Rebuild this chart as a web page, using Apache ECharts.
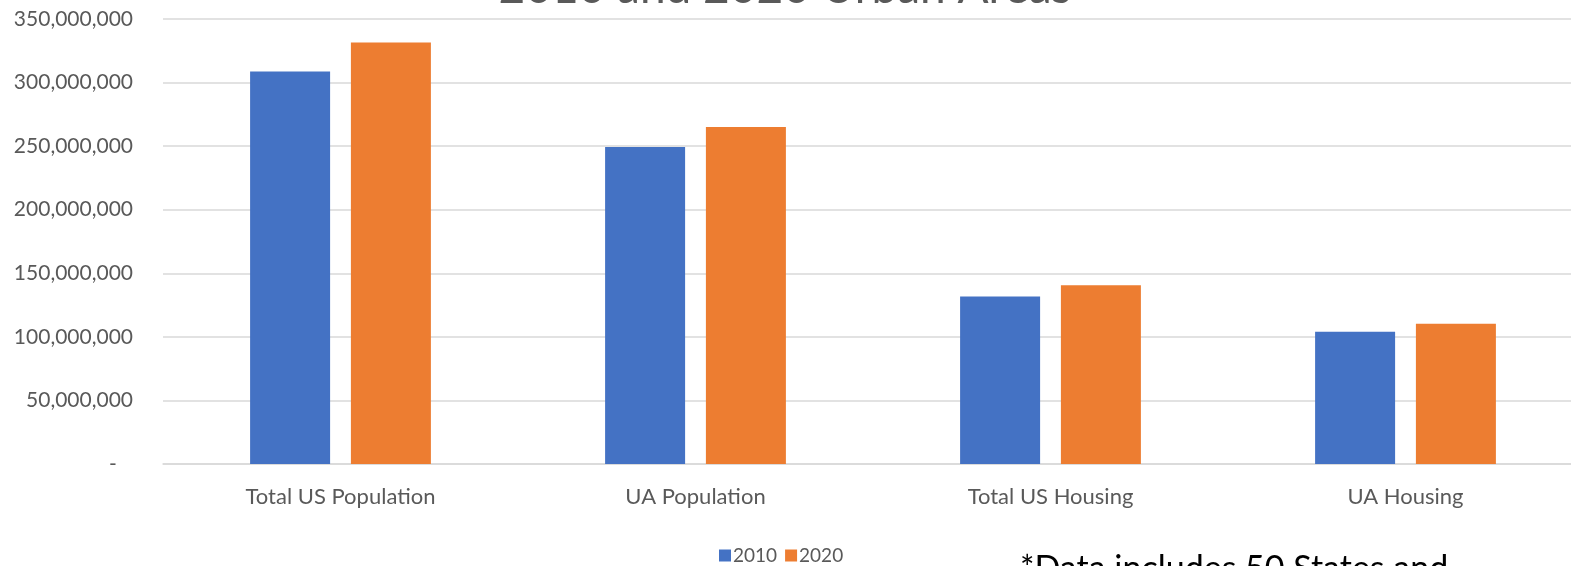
<!DOCTYPE html>
<html><head><meta charset="utf-8">
<script src="https://cdn.jsdelivr.net/npm/echarts@6/dist/echarts.min.js"></script>
<style>html,body{margin:0;padding:0;background:#fff;overflow:hidden}#c{width:1620px;height:566px}</style>
</head><body><div id="c"></div>
<script>
const categories = ["Total US Population", "UA Population", "Total US Housing", "UA Housing"];
const series2010 = [308745538, 249253271, 131704730, 104000000];
const series2020 = [331449281, 265149027, 140498736, 110300000];
const seriesNames = ["2010", "2020"];
const titleText = "2010 and 2020 Urban Areas";
const noteText = "*Data includes 50 States and";

const chart = echarts.init(document.getElementById('c'));
const FONT = 'Lato, "Open Sans", sans-serif';
chart.setOption({
  animation: false,
  color: ['#4472C4', '#ED7D31'],
  grid: { left: 163, top: 19, width: 1420, height: 445, containLabel: false },
  legend: {
    data: seriesNames, left: 714, top: 541, itemWidth: 12, itemHeight: 12, itemGap: 8,
    icon: 'rect',
    textStyle: { color: '#595959', fontSize: 19, fontFamily: FONT, padding: [0, 0, 0, -3] }
  },
  xAxis: {
    type: 'category', data: categories,
    axisLine: { lineStyle: { color: '#d9d9d9', width: 1.5 } },
    axisTick: { show: false },
    axisLabel: { color: '#595959', fontSize: 22, fontFamily: FONT, margin: 22 }
  },
  yAxis: {
    type: 'value', min: 0, max: 350000000, interval: 50000000,
    axisLine: { show: false }, axisTick: { show: false },
    splitLine: { lineStyle: { color: '#d9d9d9', width: 1.5 } },
    axisLabel: {
      color: '#595959', fontSize: 21, fontFamily: FONT, margin: 30,
      formatter: v => v === 0 ? '-   ' : v.toLocaleString('en-US')
    }
  },
  series: [
    { name: seriesNames[0], type: 'bar', data: series2010, barWidth: 80, barGap: '26%' },
    { name: seriesNames[1], type: 'bar', data: series2020, barWidth: 80 }
  ],
  graphic: [
    { type: 'text', x: 785, y: -35, style: { text: titleText, fill: '#595959', font: '46px ' + FONT, textAlign: 'center' } },
    { type: 'text', left: 1020, top: 552, style: { text: noteText, fill: '#000', font: '34px ' + FONT } }
  ]
});
</script></body></html>
